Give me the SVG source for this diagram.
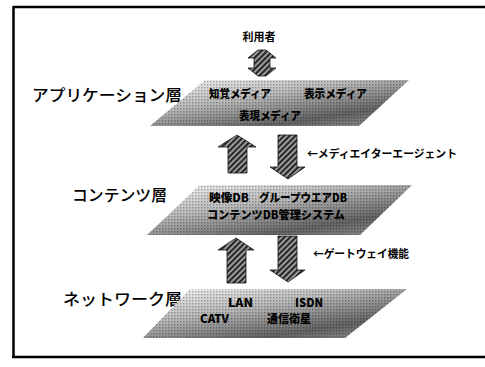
<svg xmlns="http://www.w3.org/2000/svg" width="485" height="367" viewBox="0 0 485 367">
  <style>
    .lbl { font-family: "Noto Sans CJK JP", "Liberation Sans", sans-serif; fill: #000; }
    .layer-name { font-size: 16px; font-weight: 500; }
    .inner { font-size: 11.5px; font-weight: 900; }
    .note { font-size: 11px; font-weight: 700; }
    .slab { fill: url(#slabGrad); }
    .dots { fill: url(#dots); }
    .arrow { fill: url(#hatch); stroke: #111; stroke-width: 0.8; }
  </style>
  <defs>
    <linearGradient id="slabGrad" x1="0" y1="0" x2="0.85" y2="1">
      <stop offset="0" stop-color="#fafafa"/>
      <stop offset="0.4" stop-color="#bcbcbc"/>
      <stop offset="0.8" stop-color="#646464"/>
      <stop offset="1" stop-color="#8a8a8a"/>
    </linearGradient>
    <pattern id="dots" width="3" height="3" patternUnits="userSpaceOnUse">
      <rect x="0" y="0" width="1.4" height="1.4" fill="#000" fill-opacity="0.3"/>
    </pattern>
    <pattern id="hatch" width="4" height="4" patternUnits="userSpaceOnUse" patternTransform="rotate(45)">
      <rect width="4" height="4" fill="#9a9a9a"/>
      <rect width="1.8" height="4" fill="#1a1a1a"/>
    </pattern>
  </defs>

  <rect x="0" y="0" width="485" height="367" fill="#fff"/>
  <!-- frame -->
  <path d="M13.5 7 H485 M13.5 6 V358 M12 357 H485" fill="none" stroke="#000" stroke-width="2.5"/>

  <g id="user">
    <text class="lbl note" x="259" y="41" text-anchor="middle">利用者</text>
  </g>

  <g id="application-layer">
    <text class="lbl layer-name" x="32" y="101" font-size="17" textLength="150" lengthAdjust="spacingAndGlyphs">アプリケーション層</text>
    <polygon class="slab" points="205,80 409,80 359,126 150,126"/>
    <polygon class="dots" points="205,80 409,80 359,126 150,126"/>
    <text class="lbl inner" x="209" y="98" textLength="62" lengthAdjust="spacingAndGlyphs">知覚メディア</text>
    <text class="lbl inner" x="304" y="98" textLength="63" lengthAdjust="spacingAndGlyphs">表示メディア</text>
    <text class="lbl inner" x="239" y="120" textLength="62" lengthAdjust="spacingAndGlyphs">表現メディア</text>
  </g>

  <g id="contents-layer">
    <text class="lbl layer-name" x="72" y="201" textLength="95" lengthAdjust="spacingAndGlyphs">コンテンツ層</text>
    <polygon class="slab" points="200,185 412,185 360,235 147,235"/>
    <polygon class="dots" points="200,185 412,185 360,235 147,235"/>
    <text class="lbl inner" x="209" y="202" font-size="11" textLength="40" lengthAdjust="spacingAndGlyphs">映像DB</text>
    <text class="lbl inner" x="259" y="202" font-size="11" textLength="88" lengthAdjust="spacingAndGlyphs">グループウエアDB</text>
    <text class="lbl inner" x="207" y="219" font-size="11" textLength="138" lengthAdjust="spacingAndGlyphs">コンテンツDB管理システム</text>
  </g>

  <g id="network-layer">
    <text class="lbl layer-name" x="63" y="305" font-size="17" textLength="119" lengthAdjust="spacingAndGlyphs">ネットワーク層</text>
    <polygon class="slab" points="190,289 407,289 345,338 143,338"/>
    <polygon class="dots" points="190,289 407,289 345,338 143,338"/>
    <text class="lbl inner" x="228" y="307" font-family="Liberation Sans, sans-serif" textLength="25" lengthAdjust="spacingAndGlyphs">LAN</text>
    <text class="lbl inner" x="295" y="307" font-family="Liberation Sans, sans-serif" textLength="28" lengthAdjust="spacingAndGlyphs">ISDN</text>
    <text class="lbl inner" x="200" y="323" font-family="Liberation Sans, sans-serif" textLength="29" lengthAdjust="spacingAndGlyphs">CATV</text>
    <text class="lbl inner" x="267" y="323" textLength="44" lengthAdjust="spacingAndGlyphs">通信衛星</text>
  </g>

  <g id="connectors">
    <!-- user <-> application -->
    <polygon class="arrow" points="258,50 266,50 276,58 270,58 270,68 276,68 266,76 258,76 248,68 254,68 254,58 248,58"/>
    <!-- application <-> contents -->
    <polygon class="arrow" points="237,135 256,147 247,147 247,173 228,173 228,147 218,147"/>
    <polygon class="arrow" points="278,135 297,135 297,167 305,167 288,179 270,167 278,167"/>
    <!-- contents <-> network -->
    <polygon class="arrow" points="236,238 254,250 246,250 246,283 227,283 227,250 218,250"/>
    <polygon class="arrow" points="278,236 297,236 297,270 305,270 288,282 270,270 278,270"/>
    <text class="lbl note" x="307" y="158" textLength="150" lengthAdjust="spacingAndGlyphs">←メディエイターエージェント</text>
    <text class="lbl note" x="313" y="258" textLength="96" lengthAdjust="spacingAndGlyphs">←ゲートウェイ機能</text>
  </g>
</svg>
